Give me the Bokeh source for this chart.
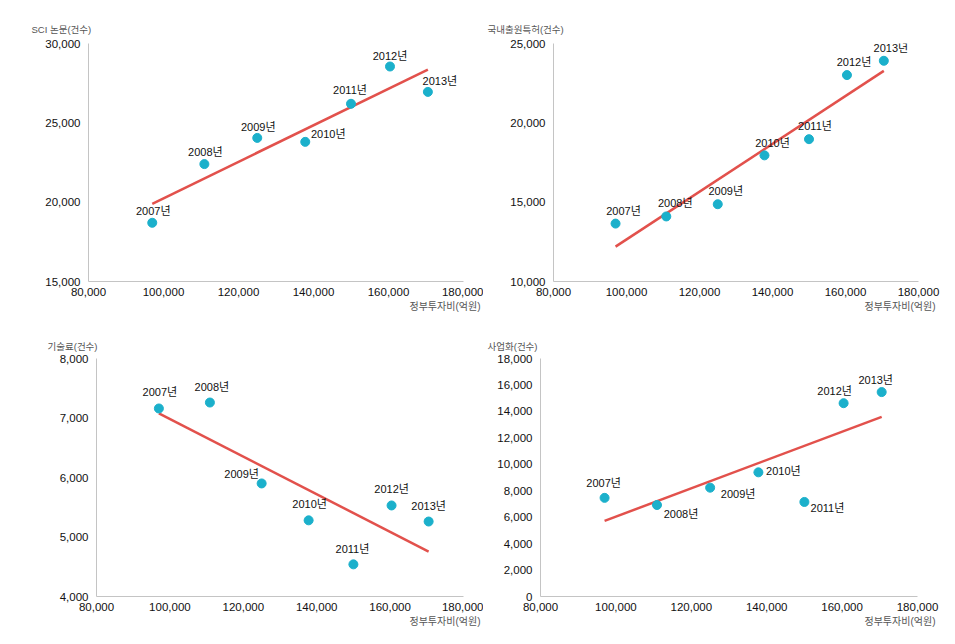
import numpy as np
from bokeh.plotting import figure
from bokeh.models import Range1d, FixedTicker, NumeralTickFormatter, Title, ColumnDataSource
from bokeh.layouts import column, row
from bokeh.embed import file_html
from bokeh.resources import INLINE
from bokeh.core.properties import value

# ---- data ----
years = ["2007년", "2008년", "2009년", "2010년", "2011년", "2012년", "2013년"]
gov_invest = [97000, 110900, 125000, 137800, 150000, 160400, 170500]   # 정부투자비(억원)
sci_papers = [18700, 22400, 24050, 23800, 26200, 28550, 26950]         # SCI 논문(건수)
patents = [13650, 14100, 14870, 17950, 18970, 23010, 23910]            # 국내출원특허(건수)
royalty = [7160, 7260, 5900, 5280, 4540, 5530, 5260]                   # 기술료(건수)
commercial = [7460, 6920, 8230, 9390, 7150, 14620, 15460]              # 사업화(건수)

x_ticks = [80000, 100000, 120000, 140000, 160000, 180000]

# ---- styles ----
NUM_FONT = "'Liberation Sans', 'Noto Sans CJK KR', sans-serif"
KR_FONT = "'Liberation Sans', 'Noto Sans CJK KR', sans-serif"
DOT = "#1bb0cb"
TREND = "#e2514c"


def panel(width, height, borders, yr, yticks, yvals, ytitle, ytitle_off, xtitle_off, offsets):
    left, right, top, bottom = borders
    p = figure(width=width, height=height, output_backend="svg", toolbar_location=None,
               x_range=Range1d(80000, 180000), y_range=Range1d(*yr),
               min_border_left=left, min_border_right=right,
               min_border_top=top, min_border_bottom=bottom)
    p.outline_line_color = None
    p.grid.visible = False
    p.background_fill_color = "white"
    p.border_fill_color = "white"
    for ax in (p.xaxis[0], p.yaxis[0]):
        ax.axis_line_color = "#c4c4c4"
        ax.axis_line_width = 1
        ax.major_tick_line_color = None
        ax.minor_tick_line_color = None
        ax.major_tick_in = 0
        ax.major_tick_out = 0
        ax.major_label_text_font = NUM_FONT
        ax.major_label_text_font_size = "11.5px"
        ax.major_label_text_color = "#111111"
        ax.formatter = NumeralTickFormatter(format="0,0")
    p.xaxis.ticker = FixedTicker(ticks=x_ticks)
    p.yaxis.ticker = FixedTicker(ticks=yticks)
    p.yaxis.major_label_standoff = 8
    p.xaxis.major_label_standoff = 6

    # regression trend line
    xs = np.array(gov_invest, dtype=float)
    ys = np.array(yvals, dtype=float)
    k, b = np.polyfit(xs, ys, 1)
    lx = [xs.min(), xs.max()]
    p.line(lx, [k * v + b for v in lx], line_color=TREND, line_width=2.5)

    src = ColumnDataSource(dict(x=gov_invest, y=yvals, t=years,
                                dx=[o[0] for o in offsets], dy=[o[1] for o in offsets]))
    p.scatter("x", "y", source=src, size=9, fill_color=DOT, line_color=DOT)
    p.text("x", "y", text="t", source=src, x_offset="dx", y_offset="dy",
           text_align="center", text_baseline="middle",
           text_font=value(KR_FONT), text_font_size="11px", text_color="#111111")

    p.add_layout(Title(text=ytitle, align="left", offset=ytitle_off[0], standoff=ytitle_off[1],
                       text_font=KR_FONT, text_font_size="9.5px", text_font_style="normal",
                       text_color="#555555"), "above")
    p.add_layout(Title(text="정부투자비(억원)", align="right", offset=xtitle_off[0],
                       standoff=xtitle_off[1],
                       text_font=KR_FONT, text_font_size="10px", text_font_style="normal",
                       text_color="#555555"), "below")
    return p


p1 = panel(483, 320, (88, 20, 43, 39), (15000, 30000), [15000, 20000, 25000, 30000],
           sci_papers, "SCI 논문(건수)", (-57, 17), (-17, 0),
           [(1, -12), (1, -12), (1, -11), (23, -8), (-1, -14), (0, -11), (12, -11)])
p2 = panel(471, 320, (70, 36, 43, 39), (10000, 25000), [10000, 15000, 20000, 25000],
           patents, "국내출원특허(건수)", (-66, 17), (-17, 0),
           [(8, -13), (9, -13), (8, -13), (8, -12), (6, -13), (7, -13), (7, -13)])
p3 = panel(483, 322, (96, 20, 38, 46), (4000, 8000), [4000, 5000, 6000, 7000, 8000],
           royalty, "기술료(건수)", (-49, 13), (-17, 0),
           [(1, -16), (2, -16), (-20, -9), (1, -16), (-1, -15), (0, -16), (0, -16)])
p4 = panel(471, 322, (57, 37, 38, 46), (0, 18000), list(range(0, 18001, 2000)),
           commercial, "사업화(건수)", (-53, 13), (-18, 0),
           [(-1, -15), (24, 9), (28, 6), (25, -1), (23, 6), (-9, -12), (-6, -12)])

layout = column(row(p1, p2), row(p3, p4))

open("out.html", "w").write(file_html(layout, INLINE))
